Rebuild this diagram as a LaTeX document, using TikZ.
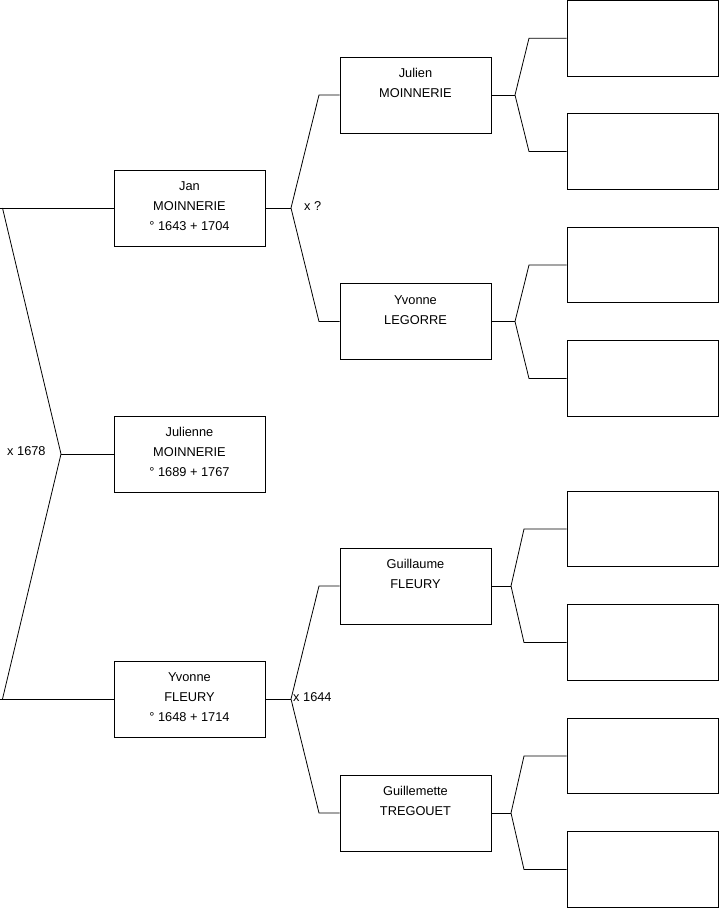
\documentclass[tikz,border=0pt]{standalone}
\usepackage{fontspec}
\setmainfont{Liberation Sans}
\newcommand{\personbox}[3]{%
  \node[person] (#1) at (#2) {};
  \node[ptext] (#1-t) at ([yshift=1.5pt]#1.center) {#3};}
\begin{document}
\begin{tikzpicture}[x=1pt,y=-1pt,
  person/.style={draw, line width=0.8pt, minimum width=151pt, minimum height=76pt, inner sep=0pt},
  ptext/.style={inner sep=0pt, align=center, font=\fontsize{12.8}{20}\selectfont},
  emptybox/.style={draw, line width=0.8pt, minimum width=151pt, minimum height=75.5pt, inner sep=0pt},
  link/.style={draw, line width=0.8pt},
  lbl/.style={font=\fontsize{12.8}{20}\selectfont, inner sep=0pt, anchor=west}]
\useasboundingbox (0,0) rectangle (719,908);
% generation 1-2
\personbox{jan}{189.5,208}{\strut Jan\\\strut MOINNERIE\\\strut ° 1643 + 1704}
\personbox{julienne}{189.5,454}{\strut Julienne\\\strut MOINNERIE\\\strut ° 1689 + 1767}
\personbox{yvf}{189.5,699}{\strut Yvonne\\\strut FLEURY\\\strut ° 1648 + 1714}
% generation 3
\personbox{julien}{415.5,95}{\strut Julien\\\strut MOINNERIE\\\strut}
\personbox{legorre}{415.5,321.5}{\strut Yvonne\\\strut LEGORRE\\\strut}
\personbox{guillaume}{415.5,586}{\strut Guillaume\\\strut FLEURY\\\strut}
\personbox{guillemette}{415.5,813}{\strut Guillemette\\\strut TREGOUET\\\strut}
% generation 4
\node[emptybox] (b1) at (642.5,38.2) {};
\node[emptybox] (b2) at (642.5,151.5) {};
\node[emptybox] (b3) at (642.5,265) {};
\node[emptybox] (b4) at (642.5,378.5) {};
\node[emptybox] (b5) at (642.5,529) {};
\node[emptybox] (b6) at (642.5,642.5) {};
\node[emptybox] (b7) at (642.5,756) {};
\node[emptybox] (b8) at (642.5,869.5) {};
% left fork
\coordinate (lt) at (0,208);
\coordinate (lta) at (2.5,208);
\coordinate (lb) at (0,699);
\coordinate (lba) at (2.5,699);
\coordinate (m) at (61,454);
\draw[link] (lt) -- (jan.west);
\draw[link] (lb) -- (yvf.west);
\draw[link] (lta) -- (m) -- (lba);
\draw[link] (m) -- (julienne.west);
\node[lbl] (x1678) at (7,451.5) {x 1678};
% Jan fork
\coordinate (f1) at (291,208);
\coordinate (f1u) at (319,95);
\coordinate (f1d) at (319,321.5);
\draw[link] (jan.east) -- (f1);
\draw[link] (julien.west) -- (f1u) -- (f1) -- (f1d) -- (legorre.west);
\node[lbl] (xq) at (304,206.5) {x ?};
% Yvonne fork
\coordinate (f2) at (291,699);
\coordinate (f2u) at (319,586);
\coordinate (f2d) at (319,813);
\draw[link] (yvf.east) -- (f2);
\draw[link] (guillaume.west) -- (f2u) -- (f2) -- (f2d) -- (guillemette.west);
\node[lbl] (x1644) at (293,697.5) {x 1644};
% generation 3 forks
\coordinate (g1) at (515,95);
\draw[link] (julien.east) -- (g1);
\draw[link] (b1.west) -- (529,38.2) -- (g1) -- (529,151.5) -- (b2.west);
\coordinate (g2) at (515,321.5);
\draw[link] (legorre.east) -- (g2);
\draw[link] (b3.west) -- (529,265) -- (g2) -- (529,378.5) -- (b4.west);
\coordinate (g3) at (511,586);
\draw[link] (guillaume.east) -- (g3);
\draw[link] (b5.west) -- (524,529) -- (g3) -- (524,642.5) -- (b6.west);
\coordinate (g4) at (511,813);
\draw[link] (guillemette.east) -- (g4);
\draw[link] (b7.west) -- (524,756) -- (g4) -- (524,869.5) -- (b8.west);
\end{tikzpicture}
\end{document}
